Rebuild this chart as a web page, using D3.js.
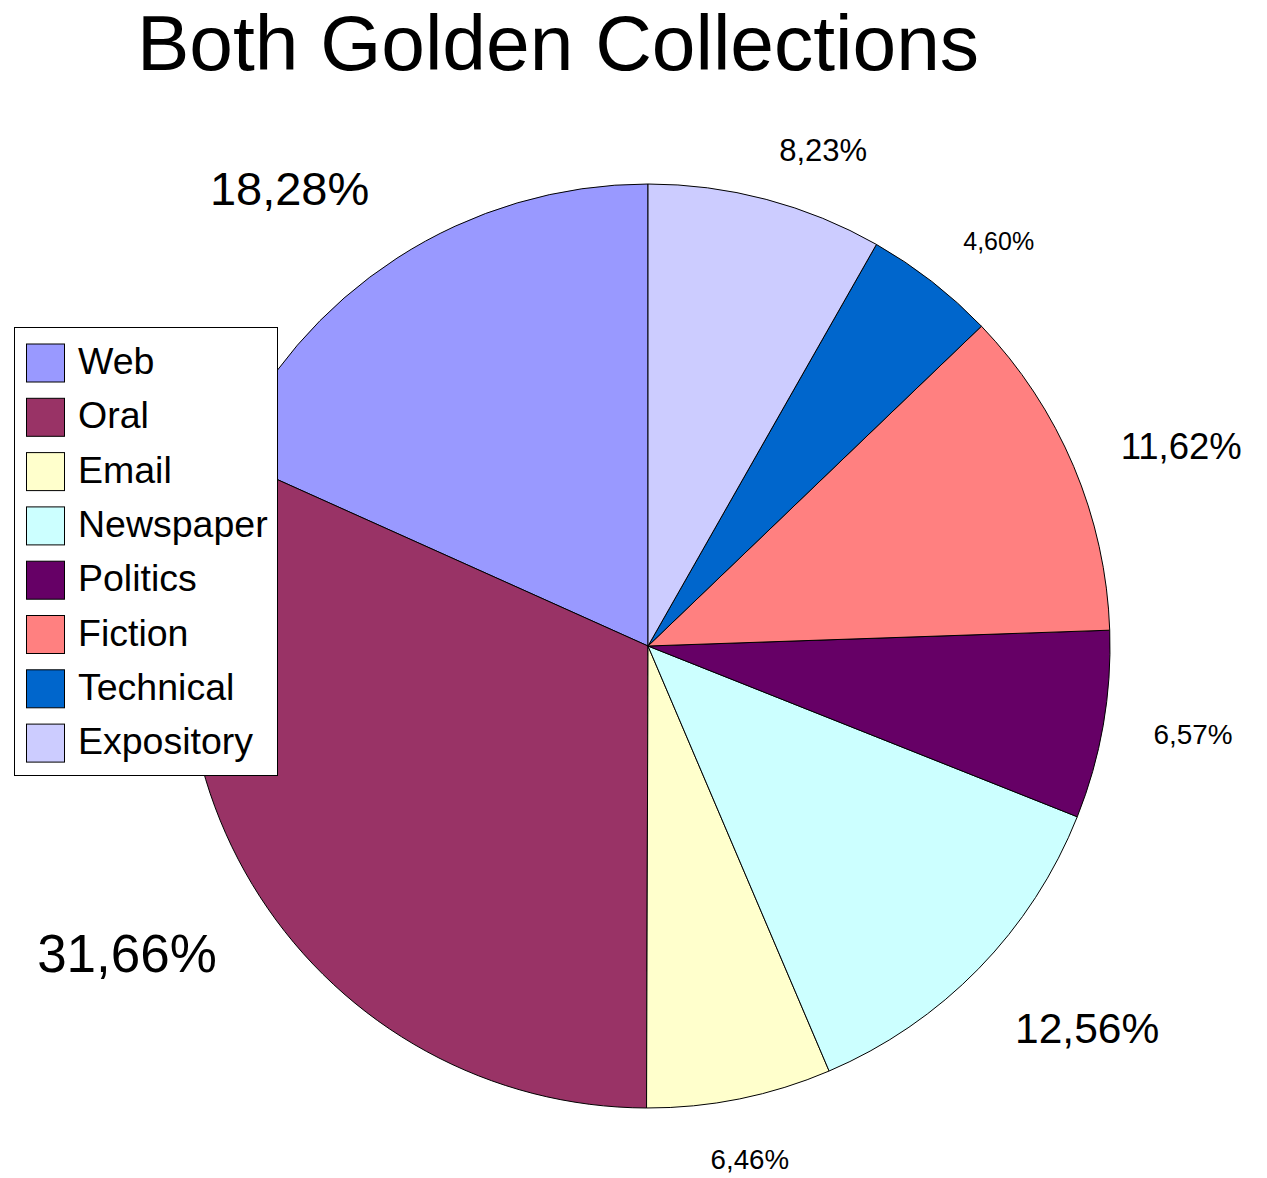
<!DOCTYPE html>
<html>
<head>
<meta charset="utf-8">
<script src="https://cdn.jsdelivr.net/npm/d3@7"></script>
<style>
  html, body { margin: 0; padding: 0; background: #ffffff; }
  svg { display: block; }
  text { font-family: "Liberation Sans", Arial, sans-serif; fill: #000; }
</style>
</head>
<body>
<svg id="chart" width="1267" height="1178"></svg>
<script>
// Text corpus composition
const categories = ["Web", "Oral", "Email", "Newspaper", "Politics", "Fiction", "Technical", "Expository"];
const shares = [18.28, 31.66, 6.46, 12.56, 6.57, 11.62, 4.60, 8.23];
const colors = ["#9999ff", "#993366", "#ffffcc", "#ccffff", "#660066", "#ff8080", "#0066cc", "#ccccff"];
const title = "Both Golden Collections";

const width = 1267, height = 1178;
const cx = 648, cy = 646, radius = 462;

const svg = d3.select("#chart");

// Title
svg.append("text")
  .attr("x", 558)
  .attr("y", 70)
  .attr("text-anchor", "middle")
  .style("font-size", "78.5px")
  .text(title);

const data = categories.map((c, i) => ({ name: c, value: shares[i], color: colors[i] }));

// Slices run counter-clockwise from twelve o'clock
const pie = d3.pie()
  .value(d => d.value)
  .sort(null)
  .startAngle(0)
  .endAngle(-2 * Math.PI);

const arcs = pie(data);
const arc = d3.arc().innerRadius(0).outerRadius(radius);

const g = svg.append("g").attr("transform", `translate(${cx},${cy})`);

g.selectAll("path.slice")
  .data(arcs)
  .join("path")
  .attr("class", "slice")
  .attr("d", arc)
  .attr("fill", d => d.data.color)
  .attr("stroke", "#000")
  .attr("stroke-width", 1)
  .attr("stroke-linejoin", "round");

// Percentage labels: bigger shares get bigger type
const labelSize = d3.scaleLinear()
  .domain([5, 8.23, 11.62, 12.56, 18.28, 31.66])
  .range([25, 31, 36.5, 42.5, 47, 53])
  .clamp(true);

const fmt = v => d3.format(".2f")(v).replace(".", ",") + "%";
const labelRadius = radius + 51;
const ascent = 0.905, descent = 0.212;

arcs.forEach(d => {
  const a = (d.startAngle + d.endAngle) / 2;
  const dx = Math.sin(a), dy = -Math.cos(a);
  const x = labelRadius * dx, y = labelRadius * dy;
  const fs = labelSize(d.data.value);

  let anchor;
  if (Math.abs(dx) < 0.22) anchor = "middle";
  else anchor = dx > 0 ? "start" : "end";

  let baseline;
  if (dy > 0.4) baseline = y + ascent * fs;                 // box hangs below the point
  else if (dy < -0.4 && dx < 0) baseline = y - descent * fs; // box sits above the point
  else baseline = y + (ascent - descent) / 2 * fs;          // vertically centred

  // keep the label's descent inside the drawing
  baseline = Math.min(baseline, height - cy - 0.32 * fs);

  g.append("text")
    .attr("x", x)
    .attr("y", baseline)
    .attr("text-anchor", anchor)
    .style("font-size", fs + "px")
    .text(fmt(d.data.value));
});

// Legend
const legend = svg.append("g").attr("transform", "translate(14.5,327.5)");
legend.append("rect")
  .attr("width", 263)
  .attr("height", 448)
  .attr("fill", "#ffffff")
  .attr("stroke", "#000")
  .attr("stroke-width", 1);

const step = 54.3;
const items = legend.selectAll("g.item")
  .data(data)
  .join("g")
  .attr("class", "item")
  .attr("transform", (d, i) => `translate(0,${16.5 + i * step})`);

items.append("rect")
  .attr("x", 12)
  .attr("y", 0)
  .attr("width", 38)
  .attr("height", 38)
  .attr("fill", d => d.color)
  .attr("stroke", "#000")
  .attr("stroke-width", 1);

items.append("text")
  .attr("x", 63.5)
  .attr("y", 30)
  .style("font-size", "37.5px")
  .text(d => d.name);
</script>
</body>
</html>
